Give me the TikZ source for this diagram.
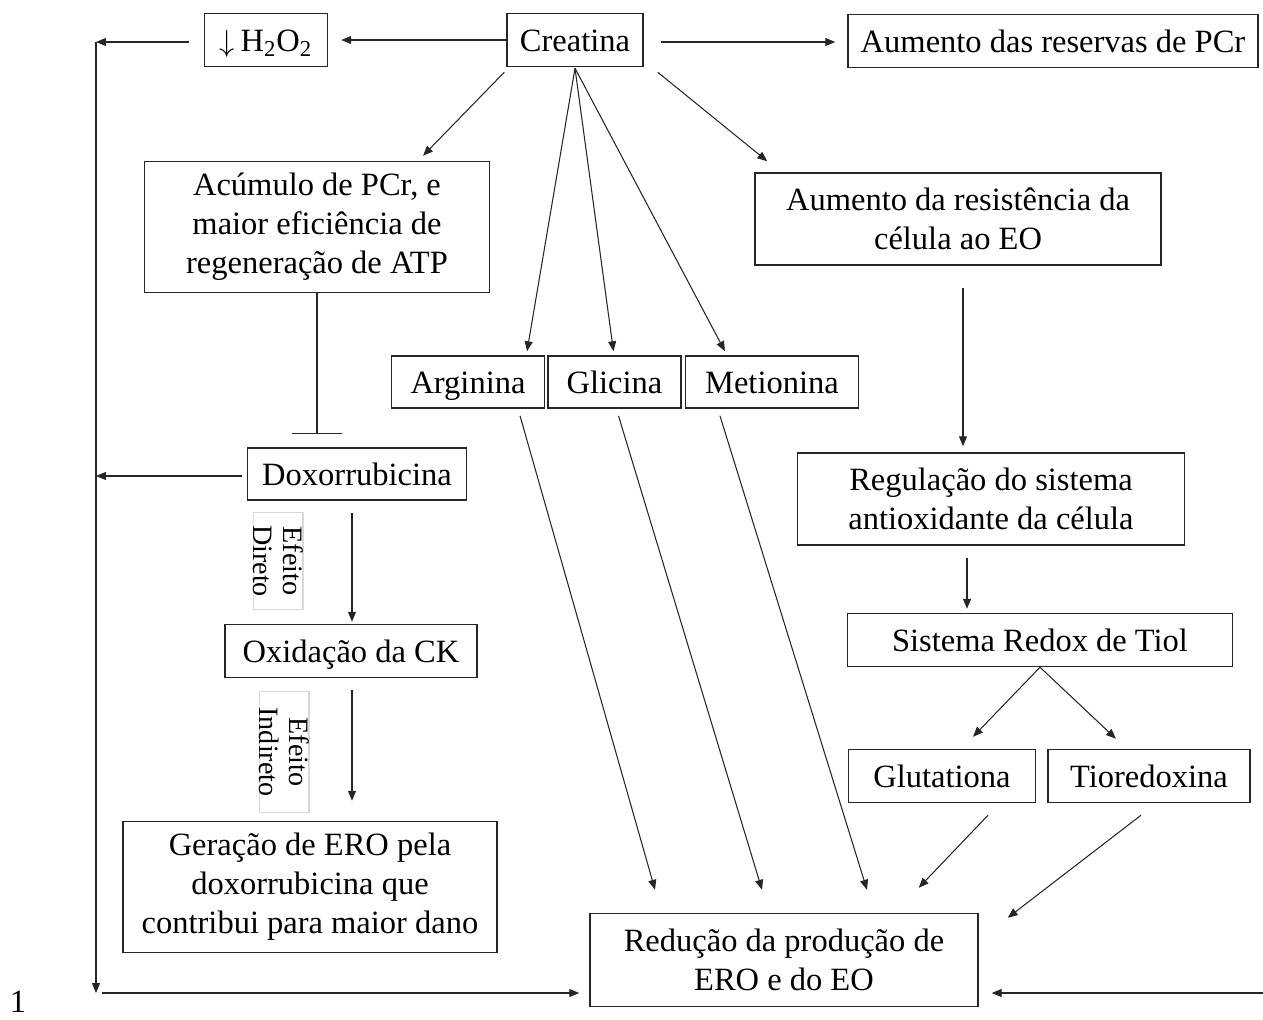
\documentclass[tikz,border=0pt]{standalone}
\usepackage{fontspec}
\setmainfont{Liberation Serif}
\usetikzlibrary{arrows.meta, positioning, calc}

\begin{document}
\begin{tikzpicture}[
    x=0.02cm, y=-0.02cm,
    box/.style={rectangle, draw=black!85, line width=0.85pt, align=center, inner sep=0pt, font=\fontsize{18.5}{22.2}\selectfont},
    linha/.style={box, text height=15.5pt, text depth=2.5pt},
    tag/.style={rectangle, draw=black!15, line width=0.6pt, align=center, inner sep=0pt, rotate=-90, font=\fontsize{16}{17}\selectfont},
    arr/.style={-{Triangle[length=2mm, width=1.6mm]}, line width=0.6pt, black!85},
    inh/.style={-{Bar[width=1cm]}, line width=0.6pt, black!85},
  ]
    \useasboundingbox (0,0) rectangle (1263,1019);

    % linha superior
    \node[linha, minimum width=2.46cm, minimum height=1.06cm] (hdois) at (266,40) {$\downarrow$\,H\textsubscript{2}O\textsubscript{2}};
    \node[linha, minimum width=2.72cm, minimum height=1.06cm] (crea) at (575,40) {Creatina};
    \node[linha, minimum width=8.2cm, minimum height=1.06cm] (reserv) at (1053,41) {Aumento das reservas de PCr};

    % ramo esquerdo
    \node[box, minimum width=6.9cm, minimum height=2.62cm] (acum) at (317,227) {Acúmulo de PCr, e\\maior eficiência de\\regeneração de ATP};
    \node[linha, minimum width=4.38cm, minimum height=1.04cm] (doxo) at (357,474) {Doxorrubicina};
    \node[linha, minimum width=5.04cm, minimum height=1.06cm] (oxid) at (351,651) {Oxidação da CK};
    \node[box, minimum width=7.48cm, minimum height=2.62cm] (gera) at (310,887) {Geração de ERO pela\\doxorrubicina que\\contribui para maior dano};
    \node[tag, minimum width=1.94cm, minimum height=0.94cm] (direto) at (278,561) {Efeito\\Direto};
    \node[tag, minimum width=2.42cm, minimum height=0.92cm] (indir) at (284,752) {Efeito\\Indireto};

    % aminoácidos
    \node[linha, minimum width=3.06cm, minimum height=1.04cm] (argi) at (468,382) {Arginina};
    \node[linha, minimum width=2.66cm, minimum height=1.04cm, right=0.04cm of argi] (glic) {Glicina};
    \node[linha, minimum width=3.46cm, minimum height=1.04cm, right=0.06cm of glic] (meti) {Metionina};

    % ramo direito
    \node[box, minimum width=8.12cm, minimum height=1.84cm] (resist) at (958,219) {Aumento da resistência da\\célula ao EO};
    \node[box, minimum width=7.74cm, minimum height=1.84cm] (regul) at (991,499) {Regulação do sistema\\antioxidante da célula};
    \node[linha, minimum width=7.7cm, minimum height=1.06cm] (redox) at (1040,640) {Sistema Redox de Tiol};
    \node[linha, minimum width=3.74cm, minimum height=1.06cm] (glut) at (942,776) {Glutationa};
    \node[linha, minimum width=4.04cm, minimum height=1.06cm, right=0.22cm of glut] (tior) {Tioredoxina};

    \node[box, minimum width=7.76cm, minimum height=1.86cm] (reduc) at (784,960) {Redução da produção de\\ERO e do EO};

    \node[font=\fontsize{18.5}{22.2}\selectfont] (pag) at (18,1002) {1};

    % coordenadas livres
    \coordinate (cantoA) at (96,42);
    \coordinate (cantoB) at (96,993);
    \coordinate (dir) at (1263,993);

    % setas da creatina
    \draw[arr] (crea.west) -- ($(hdois.east)+(13,0)$);
    \draw[arr] ($(crea.east)+(17,2)$) -- ($(reserv.west)+(-12,1)$);
    \draw[arr] ($(crea.south west)+(-2,5)$) -- ($(acum.north)+(106,-5)$);
    \draw[arr] ($(crea.south east)+(14,5)$) -- ($(resist.north west)+(13,-11)$);
    \draw[arr] ($(crea.south)+(0,1)$) -- ($(argi.north)+(59,-4)$);
    \draw[arr] ($(crea.south)+(0,1)$) -- ($(glic.north)+(-1,-4)$);
    \draw[arr] ($(crea.south)+(0,1)$) -- ($(meti.north)+(-47,-4)$);

    % retorno pela esquerda
    \draw[arr] ($(hdois.west)+(-15,2)$) -- (cantoA);
    \draw[arr] (cantoA) -- (cantoB);
    \draw[arr] ($(cantoB)+(6,0)$) -- ($(reduc.west |- cantoB)+(-10,0)$);
    \draw[arr] ($(doxo.west)+(-5,2)$) -- ($(doxo.west -| cantoA)+(0,2)$);

    % ramo esquerdo
    \draw[inh] (acum.south) -- ($(acum.south |- doxo.north)+(0,-13)$);
    \draw[arr] ($(oxid.north |- doxo.south)+(1,12)$) -- ($(oxid.north)+(1,-2)$);
    \draw[arr] ($(oxid.south)+(1,12)$) -- ($(oxid.south |- gera.north)+(1,-20)$);

    % aminoácidos para redução
    \draw[arr] ($(argi.south)+(52,7)$) -- ($(reduc.north)+(-129,-23)$);
    \draw[arr] ($(glic.south)+(4,7)$) -- ($(reduc.north)+(-22,-23)$);
    \draw[arr] ($(meti.south)+(-52,7)$) -- ($(reduc.north)+(83,-23)$);

    % ramo direito
    \draw[arr] ($(resist.south)+(5,22)$) -- ($(resist.south |- regul.north)+(5,-6)$);
    \draw[arr] ($(regul.south)+(-24,12)$) -- ($(redox.north)+(-73,-4)$);
    \draw[arr] (redox.south) -- ($(glut.north)+(31,-12)$);
    \draw[arr] (redox.south) -- ($(tior.north)+(-33,-10)$);
    \draw[arr] ($(glut.south)+(46,12)$) -- ($(reduc.north east)+(-60,-25)$);
    \draw[arr] ($(tior.south)+(-8,12)$) -- ($(reduc.north east)+(29,5)$);
    \draw[arr] (dir) -- ($(reduc.east |- dir)+(13,0)$);
  \end{tikzpicture}
\end{document}
